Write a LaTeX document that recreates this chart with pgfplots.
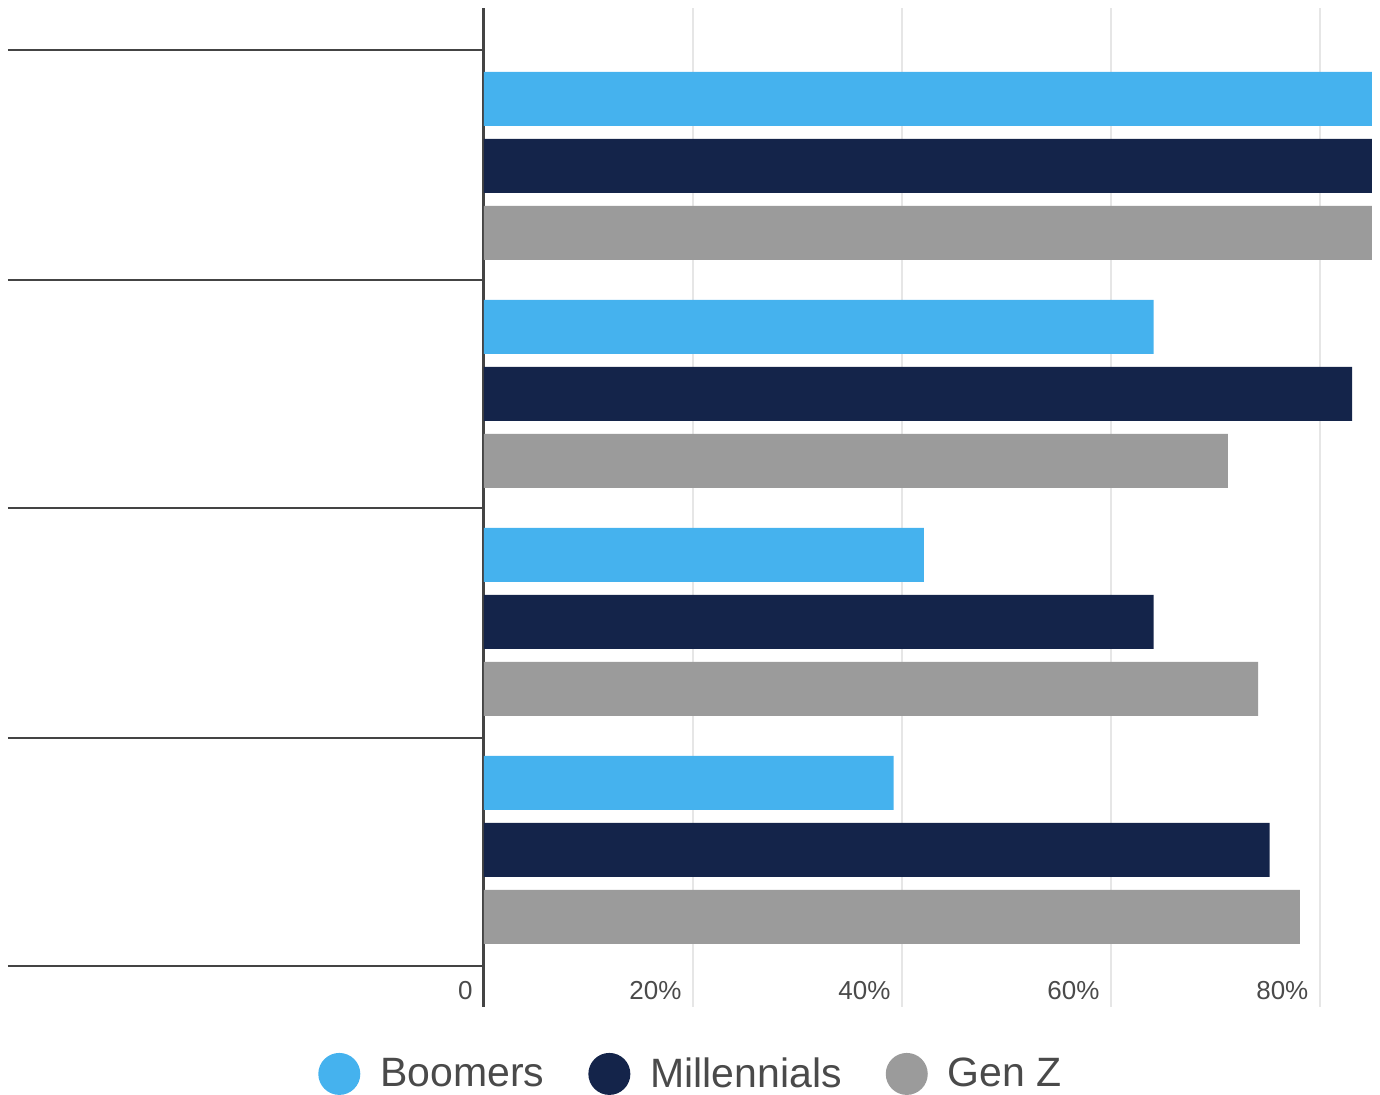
\documentclass[border=0pt]{standalone}
\usepackage{pgfplots}
\pgfplotsset{compat=1.18}
\usepackage{fontspec}
\setmainfont{Liberation Sans}
\definecolor{boom}{HTML}{45B2EE}
\definecolor{mill}{HTML}{14244A}
\definecolor{genz}{HTML}{9B9B9B}
\definecolor{axisgray}{HTML}{444444}
\definecolor{gridgray}{HTML}{E6E6E6}
\definecolor{txtgray}{HTML}{4A4A4A}
\pgfplotsset{
  circlegend/.style={legend image code/.code={\fill[##1] (10.5pt,0pt) circle (10.5pt); \path (31pt,0pt);}}
}
\begin{document}
\begin{tikzpicture}
\path[use as bounding box] (-242pt,-44pt) rectangle (448pt,503.5pt);
\begin{axis}[
  at={(0pt,0pt)}, anchor=south west,
  scale only axis, width=444pt, height=499.5pt,
  xmin=0, xmax=85, ymin=-0.689, ymax=3.693,
  axis y line*=left, axis x line*=bottom,
  separate axis lines,
  x axis line style={draw=none},
  y axis line style={draw=axisgray, line width=1.5pt},
  xtick={0,20,40,60,80}, xticklabels={0,20\%,40\%,60\%,80\%},
  xmajorgrids, grid style={gridgray, line width=1pt},
  xtick align=inside,
  major x tick style={draw=none},
  xticklabel style={anchor=base east, inner sep=0pt, xshift=-5.5pt, yshift=3.5pt, font=\fontsize{13}{15}\selectfont, text=txtgray},
  ytick={-0.51,0.49,1.5,2.5,3.51}, yticklabels={},
  ytick align=outside,
  major y tick style={draw=axisgray, line width=1pt},
  major tick length=238pt,
  legend columns=3,
  legend style={draw=none, fill=none, at={(axis description cs:0.232,-0.067)}, anchor=center,
    font=\fontsize{20.5}{24}\selectfont, text=txtgray, nodes={inner sep=0pt},
    /tikz/every even column/.append style={column sep=22pt}},
]
\addplot[xbar, bar width=0.2368, bar shift=0.2939, fill=boom, draw=none, circlegend] coordinates {(85,3) (64.1,2) (42.1,1) (39.2,0)};
\addplot[xbar, bar width=0.2368, bar shift=0, fill=mill, draw=none, circlegend] coordinates {(85,3) (83.1,2) (64.1,1) (75.2,0)};
\addplot[xbar, bar width=0.2368, bar shift=-0.2939, fill=genz, draw=none, circlegend] coordinates {(85,3) (71.2,2) (74.1,1) (78.1,0)};
\legend{Boomers, Millennials, Gen Z}
\end{axis}
\end{tikzpicture}
\end{document}
